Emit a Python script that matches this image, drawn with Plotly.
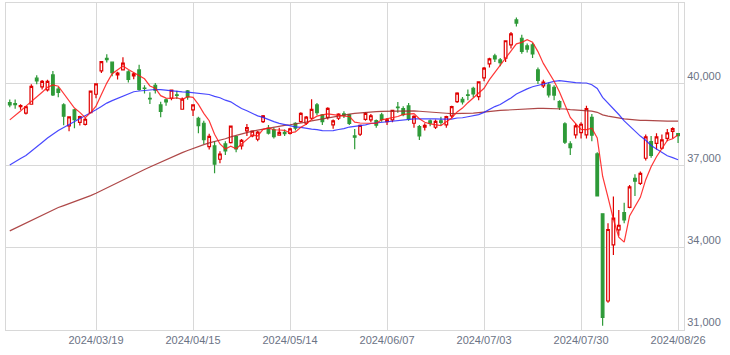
import plotly.graph_objects as go

def _d(m, days):
    return ["2024/%02d/%02d" % (m, d) for d in days]

dates = (_d(2, [26, 27, 28, 29])
         + _d(3, [1, 4, 5, 6, 7, 8, 11, 12, 13, 14, 15, 18, 19, 21, 22, 25, 26, 27, 28, 29])
         + _d(4, [1, 2, 3, 4, 5, 8, 9, 10, 11, 12, 15, 16, 17, 18, 19, 22, 23, 24, 25, 26, 30])
         + _d(5, [1, 2, 7, 8, 9, 10, 13, 14, 15, 16, 17, 20, 21, 22, 23, 24, 27, 28, 29, 30, 31])
         + _d(6, [3, 4, 5, 6, 7, 10, 11, 12, 13, 14, 17, 18, 19, 20, 21, 24, 25, 26, 27, 28])
         + _d(7, [1, 2, 3, 4, 5, 8, 9, 10, 11, 12, 16, 17, 18, 19, 22, 23, 24, 25, 26, 29, 30, 31])
         + _d(8, [1, 2, 5, 6, 7, 8, 9, 13, 14, 15, 16, 19, 20, 21, 22, 23, 26]))

opens = [39320, 39280, 39170, 38930, 39256, 40210, 39890, 39780, 40330, 39810,
         39232, 38463, 39049, 38597, 38524, 38951, 39622, 40476, 40940, 40794,
         40329, 40512, 40440, 40293, 40512, 39850, 39470, 39951, 39232, 39414,
         39478, 39600, 39074, 39744, 39049, 38744, 38561, 37706, 37732, 37245,
         37805, 37853, 38073, 37732, 38280, 38097, 37976, 38621, 38378, 38317,
         38130, 38230, 38195, 38561, 38622, 38561, 38744, 39232, 38866, 38780,
         38500, 38744, 38902, 38866, 38100, 38159, 38707, 38683, 38658, 38866,
         38622, 38683, 39150, 39100, 39195, 38561, 38439, 38415, 38646, 38415,
         38650, 38500, 38829, 39354, 39440, 39600, 39842, 39537, 40219, 40731,
         41025, 40878, 40940, 41427, 42342, 41671, 41390, 41427, 40512, 39927,
         39963, 39878, 39354, 38536, 37805, 38134, 38219, 38134, 38780, 37439,
         35249, 32061, 34110, 34659, 35293, 35488, 36549, 36366, 37281, 37890,
         37829, 37647, 38012, 38268, 38183]
highs = [39430, 39430, 39260, 39190, 39990, 40314, 40140, 40150, 40470, 39890,
         39290, 38800, 39080, 38840, 38750, 39760, 40010, 40824, 41088, 40820,
         40450, 40980, 40500, 40420, 40700, 39950, 39700, 40030, 39350, 39470,
         39800, 39750, 39500, 39780, 39260, 38800, 38650, 38180, 37900, 37540,
         37900, 38480, 38100, 37990, 38530, 38300, 38280, 38863, 38500, 38400,
         38400, 38330, 38400, 38600, 38960, 38830, 39437, 39300, 38900, 39150,
         38700, 38930, 39000, 38900, 38350, 38520, 38970, 38900, 38700, 38950,
         38750, 39060, 39336, 39180, 39300, 38850, 38500, 38560, 38700, 38700,
         38800, 38840, 39200, 39700, 39520, 39800, 39900, 40100, 40620, 40960,
         41100, 40950, 41600, 41900, 42426, 41800, 41480, 41500, 40600, 40150,
         40050, 39950, 39400, 38600, 37900, 38550, 38600, 39200, 38900, 37500,
         35268, 34900, 35880, 35390, 35658, 36300, 36700, 36800, 38150, 38100,
         38200, 38150, 38350, 38420, 38200]
lows = [39150, 39090, 39060, 38880, 39250, 39990, 39800, 39720, 39560, 39510,
        38490, 38270, 38380, 38480, 38480, 38940, 39480, 40400, 40780, 40280,
        40160, 40500, 40050, 40170, 39750, 39650, 39270, 39650, 38780, 39200,
        39400, 39450, 39060, 39420, 38829, 38200, 37800, 37600, 36734, 37100,
        37400, 37820, 37500, 37600, 38100, 38050, 37900, 38570, 38150, 38000,
        38150, 38100, 38150, 38300, 38580, 38500, 38700, 38850, 38500, 38700,
        38360, 38680, 38750, 38500, 37610, 38100, 38650, 38600, 38400, 38620,
        38500, 38600, 38950, 38820, 38650, 38400, 37950, 38300, 38450, 38350,
        38480, 38400, 38750, 39300, 39250, 39400, 39500, 39400, 40100, 40600,
        40800, 40650, 40800, 41300, 42100, 41100, 41150, 40950, 40000, 39850,
        39500, 39400, 39050, 37800, 37400, 38000, 38000, 38000, 37900, 35880,
        31156, 32000, 33744, 34450, 34900, 35450, 35900, 36300, 37200, 37300,
        37600, 37600, 37900, 38000, 37840]
closes = [39233, 39239, 39208, 39166, 39910, 40109, 40097, 40090, 39598, 39688,
          38820, 38797, 38695, 38807, 38708, 39740, 40003, 40815, 40888, 40414,
          40398, 40762, 40168, 40369, 39803, 39838, 39451, 39773, 38992, 39347,
          39773, 39581, 39442, 39523, 39232, 38471, 37961, 38079, 37068, 37438,
          37552, 38460, 37628, 37934, 38405, 38274, 38236, 38835, 38202, 38073,
          38229, 38179, 38356, 38385, 38920, 38787, 39069, 38946, 38617, 39103,
          38646, 38900, 38855, 38556, 38054, 38487, 38923, 38837, 38490, 38703,
          38683, 39038, 39134, 38876, 38720, 38814, 38102, 38482, 38570, 38633,
          38596, 38804, 39173, 39667, 39341, 39583, 39631, 40074, 40580, 40913,
          40912, 40780, 41580, 41831, 42224, 41190, 41275, 41097, 40126, 40063,
          39599, 39594, 39154, 37869, 37667, 38468, 38525, 39101, 38126, 35909,
          31458, 34675, 35089, 34831, 35025, 36232, 36442, 36726, 38062, 37388,
          38062, 37951, 38211, 38364, 38110]

# closes of the 74 sessions before the first candle (for the moving averages)
prior_closes = [31950, 32708, 32272, 32166, 32646, 32568, 32585, 32695, 33519, 33424,
                33585, 33388, 33354, 33451, 33625, 33447, 33408, 33321, 33486,
                33431, 33231, 32775, 33445, 32858, 32307, 32791, 32843, 32926, 32686,
                32970, 32758, 33219, 33675, 33141, 33169, 33254, 33305, 33681, 33540,
                33464,
                33288, 33377, 33763, 34441, 35049, 35577, 35901, 35619, 35477, 35466,
                35963, 36546, 36517, 36226, 36236, 35751, 36026, 36066, 36287,
                36011, 36158, 36354, 36160, 36119, 36863, 36897, 37963, 37703, 38157,
                38487, 38470, 38364, 38262, 39098]

tick_labels = ["2024/03/19", "2024/04/15", "2024/05/14", "2024/06/07",
               "2024/07/03", "2024/07/30", "2024/08/26"]
y_ticks = [31000, 34000, 37000, 40000]

ma_periods = [5, 25, 75]
ma_colors = {5: "rgba(255,20,20,0.85)", 25: "rgba(40,40,255,0.85)", 75: "rgba(160,40,40,0.85)"}

x = list(range(len(dates)))
allc = prior_closes + closes
n0 = len(prior_closes)

fig = go.Figure()
for p in [75, 25, 5]:
    ma = [sum(allc[n0 + i - p + 1:n0 + i + 1]) / p for i in x]
    fig.add_trace(go.Scatter(x=x, y=ma, mode="lines",
                             line=dict(color=ma_colors[p], width=1.2),
                             hoverinfo="skip", showlegend=False))

fig.add_trace(go.Candlestick(
    x=x, open=opens, high=highs, low=lows, close=closes,
    increasing=dict(line=dict(color="#e00000", width=1.2), fillcolor="#ffffff"),
    decreasing=dict(line=dict(color="#2e9a38", width=1.2), fillcolor="#2e9a38"),
    whiskerwidth=0, showlegend=False))

grid = "#d8d8d8"
font_col = "#6b7385"
fig.update_layout(
    width=730, height=355,
    margin=dict(l=6, r=46, t=3, b=25),
    paper_bgcolor="white", plot_bgcolor="white",
    showlegend=False,
    font=dict(family="Liberation Sans, Arial, sans-serif", size=11, color=font_col),
)
fig.update_xaxes(
    range=[-0.7, 125.1],
    tickvals=[dates.index(t) for t in tick_labels], ticktext=tick_labels,
    showgrid=True, gridcolor=grid, gridwidth=1,
    showline=True, linecolor=grid, mirror=True, linewidth=1,
    ticks="", zeroline=False,
    rangeslider=dict(visible=False),
    tickfont=dict(size=11, color=font_col),
)
fig.update_yaxes(
    side="right", range=[31000, 42960],
    tickvals=y_ticks, tickformat=",d",
    ticklabelposition="outside top",
    showgrid=True, gridcolor=grid, gridwidth=1,
    showline=True, linecolor=grid, mirror=True, linewidth=1,
    ticks="", zeroline=False,
    tickfont=dict(size=11, color=font_col),
)

fig.write_html("out.html")
